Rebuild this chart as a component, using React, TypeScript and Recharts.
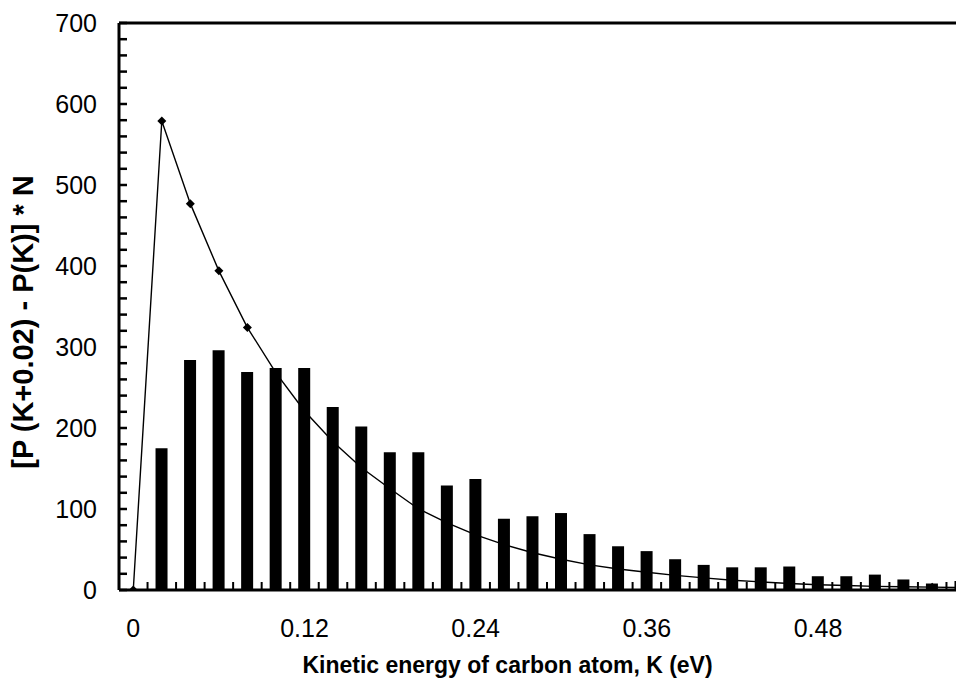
import React from 'react';
import { ComposedChart, Bar, Line, XAxis, YAxis, ReferenceLine } from 'recharts';

// Kinetic energy categories K (eV)
const energies = [
  0, 0.02, 0.04, 0.06, 0.08, 0.1, 0.12, 0.14, 0.16, 0.18,
  0.2, 0.22, 0.24, 0.26, 0.28, 0.3, 0.32, 0.34, 0.36, 0.38,
  0.4, 0.42, 0.44, 0.46, 0.48, 0.5, 0.52, 0.54, 0.56, 0.58,
];
// Histogram (bars) of simulated counts
const histogram = [
  null, 175, 284, 296, 269, 274, 274, 226, 202, 170,
  170, 129, 137, 88, 91, 95, 69, 54, 48, 38,
  31, 28, 28, 29, 17, 17, 19, 13, 8, 11,
];
// Theoretical curve (line with diamond markers)
const theory = [
  0, 579, 477, 394, 324, 268, 221, 183, 151, 125,
  100, 83, 68, 56, 46, 38, 31, 26, 22, 18,
  15, 12, 10, 8, 6.5, 5.5, 4.5, 4, 3.5, 3,
];
const xLabelTicks = [0, 0.12, 0.24, 0.36, 0.48];
const yLabelTicks = [0, 100, 200, 300, 400, 500, 600, 700];
const yMinorStep = 20;

const FONT = '"Liberation Sans", Arial, Helvetica, sans-serif';

const data = energies.map((k, i) => ({ k, hist: histogram[i], theory: theory[i] }));

const boundaryTicks = energies.map((k, i) =>
  i < energies.length - 1 ? (k + energies[i + 1]) / 2 : k + (k - energies[i - 1]) / 2
);
const xTicks = [...xLabelTicks, ...boundaryTicks].sort((a, b) => a - b);

const yMax = yLabelTicks[yLabelTicks.length - 1];
const yTicks: number[] = [];
for (let v = 0; v <= yMax; v += yMinorStep) yTicks.push(v);

const isLabel = (v: number) => xLabelTicks.some((t) => Math.abs(t - v) < 1e-9);

const XTick = (props: any) => {
  const { x, y, payload } = props;
  const v = payload.value as number;
  if (isLabel(v)) {
    return (
      <text x={x} y={y + 47} textAnchor="middle" fontSize={25} fontFamily={FONT} fill="#000">
        {String(v)}
      </text>
    );
  }
  return <line x1={x} x2={x} y1={y} y2={y - 8} stroke="#000" strokeWidth={2} />;
};

const YTick = (props: any) => {
  const { x, y, payload } = props;
  const v = payload.value as number;
  const showLabel = yLabelTicks.includes(v);
  return (
    <g>
      <line x1={x} x2={x + 8} y1={y} y2={y} stroke="#000" strokeWidth={2.5} />
      {showLabel && (
        <text x={x - 22} y={y} dy={9} textAnchor="end" fontSize={25} fontFamily={FONT} fill="#000">
          {v}
        </text>
      )}
    </g>
  );
};

const Diamond = (props: any) => {
  const { cx, cy, index } = props;
  if (cx == null || cy == null) return <g key={`d-${index}`} />;
  const s = 4.5;
  return (
    <path
      key={`d-${index}`}
      d={`M${cx},${cy - s}L${cx + s},${cy}L${cx},${cy + s}L${cx - s},${cy}Z`}
      fill="#000"
      stroke="none"
    />
  );
};

export default function App() {
  return (
    <div style={{ position: 'relative', width: 956, height: 679, overflow: 'hidden', background: '#fff' }}>
      <ComposedChart
        width={1000}
        height={679}
        data={data}
        margin={{ top: 15, right: 33, left: 0, bottom: 0 }}
      >
        <XAxis
          type="number"
          dataKey="k"
          domain={[-0.01, 0.59]}
          allowDataOverflow
          ticks={xTicks}
          interval={0}
          tickLine={false}
          tickSize={0}
          tickMargin={0}
          tick={<XTick />}
          axisLine={{ stroke: '#000', strokeWidth: 3 }}
          height={97}
        />
        <YAxis
          type="number"
          domain={[0, yMax]}
          allowDataOverflow
          ticks={yTicks}
          interval={0}
          tickLine={false}
          tickSize={0}
          tickMargin={0}
          tick={<YTick />}
          axisLine={{ stroke: '#000', strokeWidth: 3 }}
          width={111}
        />
        <ReferenceLine y={yMax} stroke="#000" strokeWidth={3} />
        <Line
          type="linear"
          dataKey="theory"
          stroke="#000"
          strokeWidth={1.4}
          dot={(p: any) => <Diamond {...p} />}
          activeDot={false}
          isAnimationActive={false}
        />
        <Bar dataKey="hist" fill="#000" barSize={12} isAnimationActive={false} />
      </ComposedChart>
      <svg
        width={956}
        height={679}
        style={{ position: 'absolute', left: 0, top: 0, pointerEvents: 'none' }}
      >
        <text
          x={499.5}
          y={665}
          textAnchor="middle"
          fontSize={23}
          fontWeight="bold"
          fontFamily={FONT}
          fill="#000"
        >
          Kinetic energy of carbon atom, K (eV)
        </text>
        <text
          x={24.5}
          y={314}
          transform="rotate(-90 24.5 314)"
          textAnchor="middle"
          fontSize={29}
          fontWeight="bold"
          fontFamily={FONT}
          fill="#000"
        >
          [P (K+0.02) - P(K)] * N
        </text>
      </svg>
    </div>
  );
}
